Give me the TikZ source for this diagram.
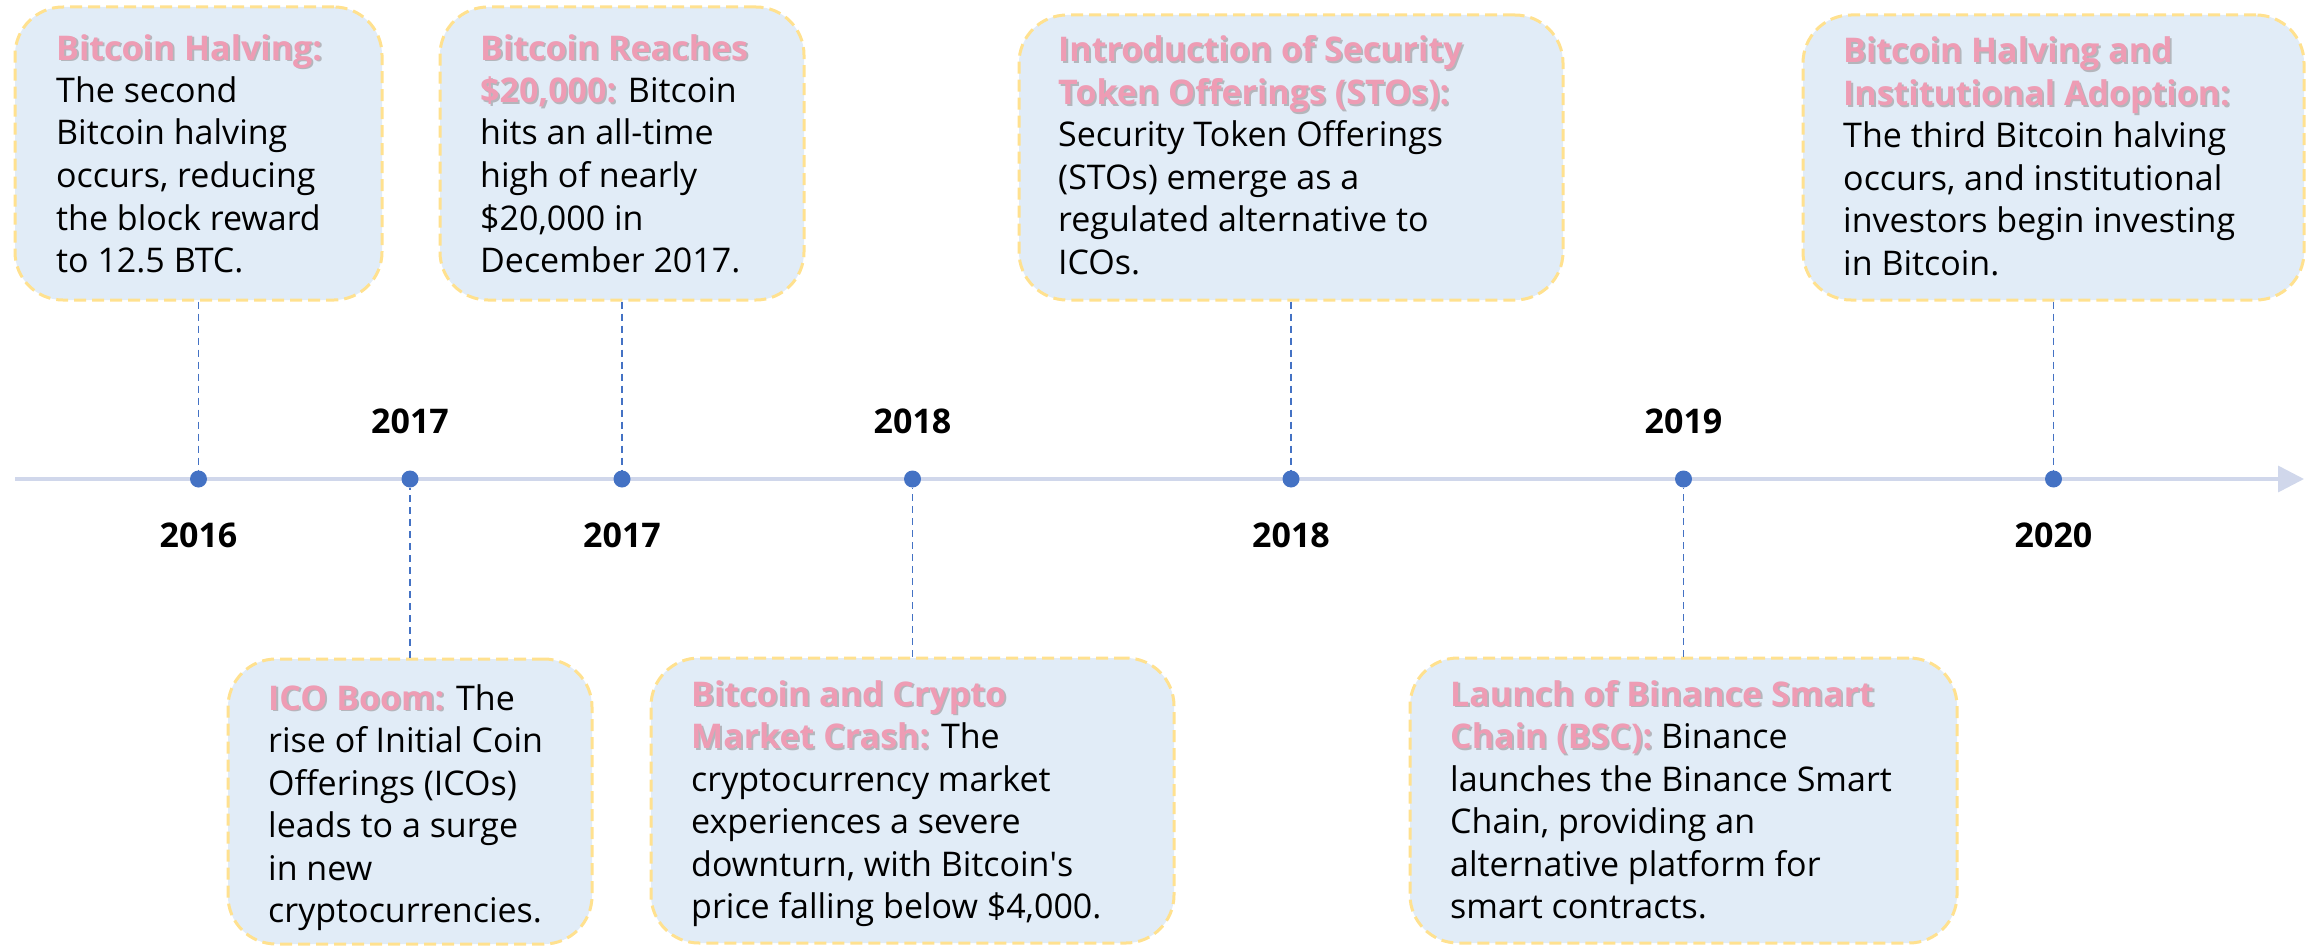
\documentclass[tikz,border=0pt]{standalone}
\usepackage{fontspec}
\setmainfont{Open Sans}
\usetikzlibrary{arrows.meta}

\definecolor{axisline}{HTML}{D0D7EB}
\definecolor{dotblue}{HTML}{4472C4}
\definecolor{boxfill}{HTML}{E1ECF7}
\definecolor{boxedge}{HTML}{FFE18F}
\definecolor{titlepink}{HTML}{EE9CB4}
\definecolor{titleshadow}{HTML}{B4B6BC}

% pink bold heading with a soft grey drop shadow
\newcommand\evtitle[1]{%
  \makebox[0pt][l]{\hspace{1.8pt}\raisebox{-1.8pt}{\textcolor{titleshadow}{\bfseries #1}}}%
  \textcolor{titlepink}{\bfseries #1}}
% event description: first baseline is the node's baseline
\newcommand\evtext[1]{\parbox[t]{600pt}{\fontsize{34}{42.5}\selectfont\raggedright #1}}

\tikzset{
  evbox/.style={draw=boxedge, line width=3pt, dash pattern=on 12pt off 6pt,
    fill=boxfill, rounded corners=48pt, inner sep=0pt},
  evdot/.style={circle, fill=dotblue, minimum size=17pt, inner sep=0pt},
  leader/.style={draw=dotblue, line width=1.5pt, dash pattern=on 7pt off 5pt},
  axis/.style={draw=axisline, line width=3.5pt,
    -{Triangle[length=26pt,width=26pt,color=axisline]}},
  year/.style={font=\fontsize{34}{40}\selectfont\bfseries, anchor=base, inner sep=0pt},
  evlabel/.style={anchor=base west, inner sep=0pt},
}

\begin{document}
\begin{tikzpicture}[x=1pt,y=-1pt]
\useasboundingbox (0,0) rectangle (2313,950);

% event cards
\node[evbox, minimum width=367pt, minimum height=293pt] (b1) at (198.5,153.5) {};
\node[evbox, minimum width=364pt, minimum height=285pt] (b2) at (410,801.5) {};
\node[evbox, minimum width=364pt, minimum height=293pt] (b3) at (622,153.5) {};
\node[evbox, minimum width=523pt, minimum height=285pt] (b4) at (912.5,800.5) {};
\node[evbox, minimum width=544pt, minimum height=285pt] (b5) at (1291,157.5) {};
\node[evbox, minimum width=547pt, minimum height=285pt] (b6) at (1683.5,800.5) {};
\node[evbox, minimum width=501pt, minimum height=285pt] (b7) at (2053.5,157.5) {};

% time axis
\coordinate (tstart) at (15,479);
\coordinate (tend) at (2304,479);
\draw[axis] (tstart) -- (tend);

% event markers
\node[evdot] (d1) at (198.5,479) {};
\node[evdot] (d2) at (410,479) {};
\node[evdot] (d3) at (622,479) {};
\node[evdot] (d4) at (912.5,479) {};
\node[evdot] (d5) at (1291,479) {};
\node[evdot] (d6) at (1683.5,479) {};
\node[evdot] (d7) at (2053.5,479) {};

% leaders from cards to markers
\draw[leader] (b1.south) -- (d1.north);
\draw[leader] (b2.north) -- (d2.south);
\draw[leader] (b3.south) -- (d3.north);
\draw[leader] (b4.north) -- (d4.south);
\draw[leader] (b5.south) -- (d5.north);
\draw[leader] (b6.north) -- (d6.south);
\draw[leader] (b7.south) -- (d7.north);

% years
\node[year] (y1) at (198.5,547) {2016};
\node[year] (y2) at (410,433) {2017};
\node[year] (y3) at (622,547) {2017};
\node[year] (y4) at (912.5,433) {2018};
\node[year] (y5) at (1291,547) {2018};
\node[year] (y6) at (1683.5,433) {2019};
\node[year] (y7) at (2053.5,547) {2020};

% card texts
\node[evlabel] (t1) at (56,60) {\evtext{%
  \evtitle{Bitcoin Halving:}\\
  The second\\
  Bitcoin halving\\
  occurs, reducing\\
  the block reward\\
  to 12.5 BTC.}};

\node[evlabel] (t2) at (268,710) {\evtext{%
  \evtitle{ICO Boom:} The\\
  rise of Initial Coin\\
  Offerings (ICOs)\\
  leads to a surge\\
  in new\\
  cryptocurrencies.}};

\node[evlabel] (t3) at (480,60) {\evtext{%
  \evtitle{Bitcoin Reaches}\\
  \evtitle{\$20,000:} Bitcoin\\
  hits an all-time\\
  high of nearly\\
  \$20,000 in\\
  December 2017.}};

\node[evlabel] (t4) at (691,706) {\evtext{%
  \evtitle{Bitcoin and Crypto}\\
  \evtitle{Market Crash:} The\\
  cryptocurrency market\\
  experiences a severe\\
  downturn, with Bitcoin\textquotesingle s\\
  price falling below \$4,000.}};

\node[evlabel] (t5) at (1058,62) {\evtext{%
  \evtitle{Introduction of Security}\\
  \evtitle{Token Offerings (STOs):}\\
  Security Token Offerings\\
  (STOs) emerge as a\\
  regulated alternative to\\
  ICOs.}};

\node[evlabel] (t6) at (1450,706) {\evtext{%
  \evtitle{Launch of Binance Smart}\\
  \evtitle{Chain (BSC):} Binance\\
  launches the Binance Smart\\
  Chain, providing an\\
  alternative platform for\\
  smart contracts.}};

\node[evlabel] (t7) at (1843,63) {\evtext{%
  \evtitle{Bitcoin Halving and}\\
  \evtitle{Institutional Adoption:}\\
  The third Bitcoin halving\\
  occurs, and institutional\\
  investors begin investing\\
  in Bitcoin.}};
\end{tikzpicture}
\end{document}
